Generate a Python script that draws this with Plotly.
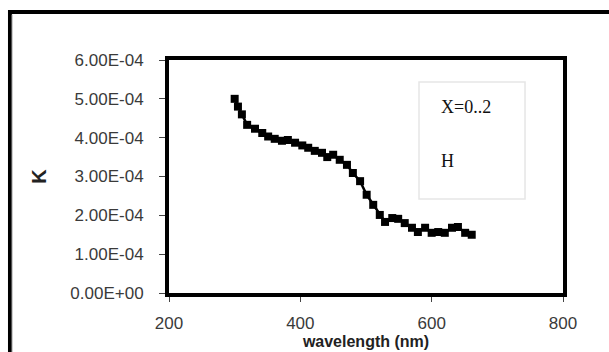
import plotly.graph_objects as go

wavelength = [300, 305, 311, 319, 331, 342, 351, 361, 372, 381, 392, 403, 412, 422, 433, 441,
              450, 460, 471, 480, 491, 501, 511, 521, 529, 540, 549, 559, 570, 579, 590, 600,
              610, 620, 631, 640, 651, 661]
k_values = [5.00e-4, 4.80e-4, 4.60e-4, 4.33e-4, 4.23e-4, 4.12e-4, 4.03e-4, 3.97e-4, 3.92e-4,
            3.94e-4, 3.87e-4, 3.80e-4, 3.74e-4, 3.66e-4, 3.61e-4, 3.50e-4, 3.56e-4, 3.43e-4,
            3.30e-4, 3.09e-4, 2.88e-4, 2.53e-4, 2.27e-4, 2.01e-4, 1.83e-4, 1.93e-4, 1.91e-4,
            1.80e-4, 1.68e-4, 1.57e-4, 1.68e-4, 1.55e-4, 1.57e-4, 1.55e-4, 1.68e-4, 1.70e-4,
            1.55e-4, 1.50e-4]

y_tickvals = [0, 1e-4, 2e-4, 3e-4, 4e-4, 5e-4, 6e-4]
y_ticktext = ["0.00E+00", "1.00E-04", "2.00E-04", "3.00E-04", "4.00E-04", "5.00E-04", "6.00E-04"]
x_tickvals = [200, 400, 600, 800]
legend_lines = ["X=0..2", "H"]

fig = go.Figure()
fig.add_trace(go.Scatter(
    x=wavelength, y=k_values, mode="lines+markers",
    line=dict(color="black", width=2.5),
    marker=dict(symbol="square", size=8, color="black"),
    showlegend=False,
))

sans = "Liberation Sans, Arial, sans-serif"
tickfont = dict(family=sans, size=17, color="#3a3a3a")

fig.update_layout(
    width=609, height=352,
    margin=dict(l=169, r=46, t=60, b=59),
    paper_bgcolor="white", plot_bgcolor="white",
    xaxis=dict(
        range=[200, 800], tickvals=x_tickvals, ticktext=[str(v) for v in x_tickvals],
        showgrid=False, zeroline=False, showline=True, linecolor="black", linewidth=4,
        mirror=True, ticks="outside", ticklen=5, tickcolor="#444", tickwidth=1,
        tickfont=tickfont, ticklabelstandoff=7, automargin=False,
        title=dict(text="<b>wavelength (nm)</b>",
                   font=dict(family=sans, size=16, color="#222"),
                   standoff=0),
    ),
    yaxis=dict(
        range=[0, 6e-4], tickvals=y_tickvals, ticktext=y_ticktext,
        showgrid=False, zeroline=False, showline=True, linecolor="black", linewidth=4,
        mirror=True, ticks="outside", ticklen=6, tickcolor="#444", tickwidth=1,
        tickfont=tickfont, ticklabelstandoff=12, automargin=False,
        title=dict(text="<b>K</b>",
                   font=dict(family=sans, size=20, color="#222"),
                   standoff=19),
    ),
    font=dict(family=sans),
)

# outer frame (top and left visible)
fig.add_shape(type="rect", xref="paper", yref="paper",
              x0=-0.4036, x1=1.5, y0=-1.0, y1=1.206,
              line=dict(color="black", width=4), fillcolor="rgba(0,0,0,0)", layer="below")
fig.add_shape(type="line", xref="paper", yref="paper",
              x0=-0.3985, x1=-0.3985, y0=-1.0, y1=1.195,
              line=dict(color="#9a9a9a", width=1), layer="below")

# legend-like text box
fig.add_shape(type="rect", xref="paper", yref="paper",
              x0=0.6345, x1=0.9036, y0=0.4034, y1=0.9056,
              line=dict(color="#e6e6e6", width=1.5), fillcolor="white")
fig.add_annotation(xref="paper", yref="paper", x=(439 - 169) / 394, y=(293 - 107) / 233,
                   xanchor="left", yanchor="middle",
                   text=legend_lines[0], showarrow=False,
                   font=dict(family="Liberation Serif, Times New Roman, serif", size=18, color="#111"))
fig.add_annotation(xref="paper", yref="paper", x=(439 - 169) / 394, y=(293 - 161) / 233,
                   xanchor="left", yanchor="middle",
                   text=legend_lines[1], showarrow=False,
                   font=dict(family="Liberation Serif, Times New Roman, serif", size=18, color="#111"))

fig.write_html("out.html")
